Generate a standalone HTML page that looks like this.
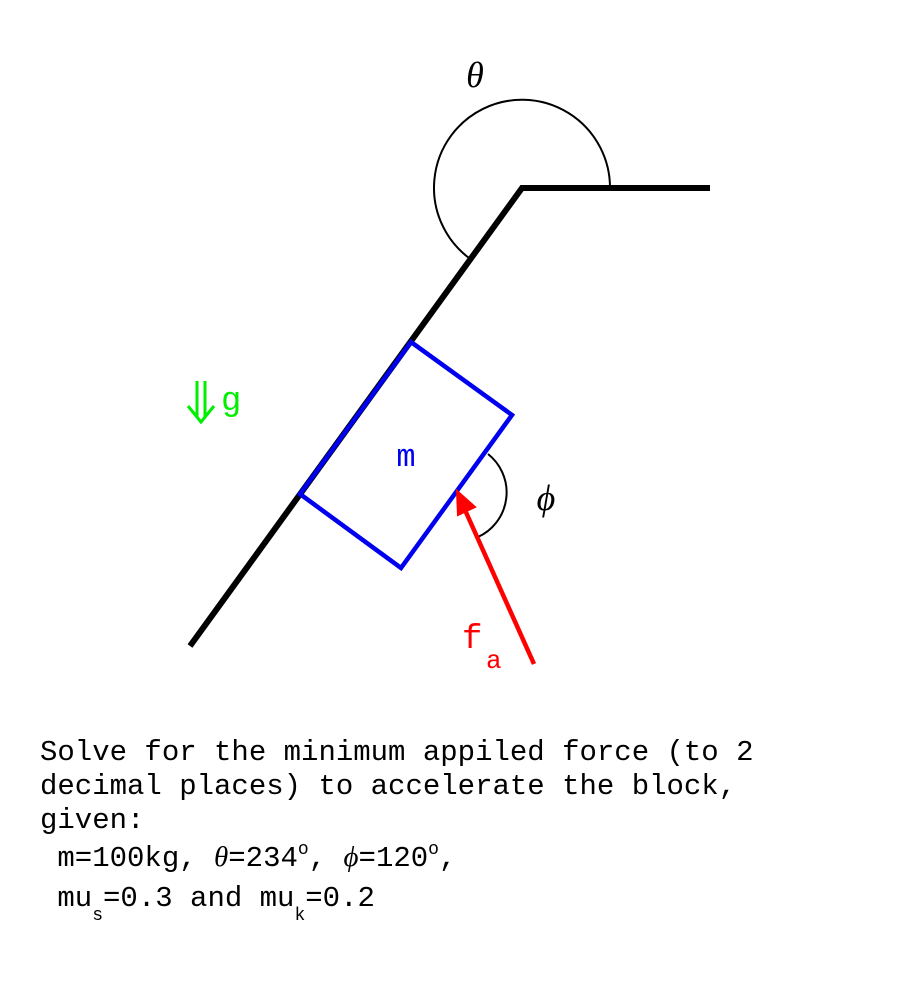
<!DOCTYPE html>
<html><head><meta charset="utf-8"><style>
html,body{margin:0;padding:0;background:#fff;}
svg{display:block;}
</style></head><body>
<svg width="900" height="983" viewBox="0 0 900 983" xmlns="http://www.w3.org/2000/svg">
<rect width="900" height="983" fill="#fff"/>
<path d="M610,188 A88,88 0 1 0 469,258" fill="none" stroke="#000" stroke-width="2"/>
<polyline points="710,188 522,188 190,646" fill="none" stroke="#000" stroke-width="6"/>
<polygon points="411,342 512,415 401,568 300,494" fill="none" stroke="#0000ee" stroke-width="4.5"/>
<path d="M488,454 A49,49 0 0 1 478,537" fill="none" stroke="#000" stroke-width="2"/>
<line x1="534" y1="664" x2="465" y2="510" stroke="#f00" stroke-width="4.5"/>
<polygon points="457,491 475,507 458,515" fill="#f00" stroke="#f00" stroke-width="2"/>
<text x="475" y="87" font-family="Liberation Serif, serif" font-style="italic" font-size="36" text-anchor="middle">θ</text>
<text x="546" y="510" font-family="Liberation Serif, serif" font-style="italic" font-size="36" text-anchor="middle">ϕ</text>
<text x="406" y="466" font-family="Liberation Mono, monospace" font-size="32" fill="#0000ee" text-anchor="middle">m</text>
<g stroke="#00ee00" stroke-width="3" fill="none">
<line x1="197" y1="381" x2="197" y2="418"/>
<line x1="205" y1="381" x2="205" y2="418"/>
<polyline points="188,406 201,422 214,406"/>
</g>
<text x="221" y="410" font-family="Liberation Mono, monospace" font-size="34" fill="#00ee00">g</text>
<text x="462" y="648" font-family="Liberation Mono, monospace" font-size="34" fill="#f00">f</text>
<text x="486" y="668" font-family="Liberation Mono, monospace" font-size="26" fill="#f00">a</text>
<g font-family="Liberation Mono, monospace" font-size="29" fill="#000">
<text x="40" y="760" xml:space="preserve">Solve for the minimum appiled force (to 2</text>
<text x="40" y="794" xml:space="preserve">decimal places) to accelerate the block,</text>
<text x="40" y="828">given:</text>
<text x="40" y="866" xml:space="preserve"> m=100kg, <tspan font-family="Liberation Serif, serif" font-style="italic">θ</tspan>=234<tspan font-size="18" dy="-12">o</tspan><tspan dy="12">, </tspan><tspan font-family="Liberation Serif, serif" font-style="italic">ϕ</tspan>=120<tspan font-size="18" dy="-12">o</tspan><tspan dy="12">,</tspan></text>
<text x="40" y="906" xml:space="preserve"> mu<tspan font-size="18" dy="14">s</tspan><tspan dy="-14">=0.3 and mu</tspan><tspan font-size="18" dy="14">k</tspan><tspan dy="-14">=0.2</tspan></text>
</g>
</svg>
</body></html>
